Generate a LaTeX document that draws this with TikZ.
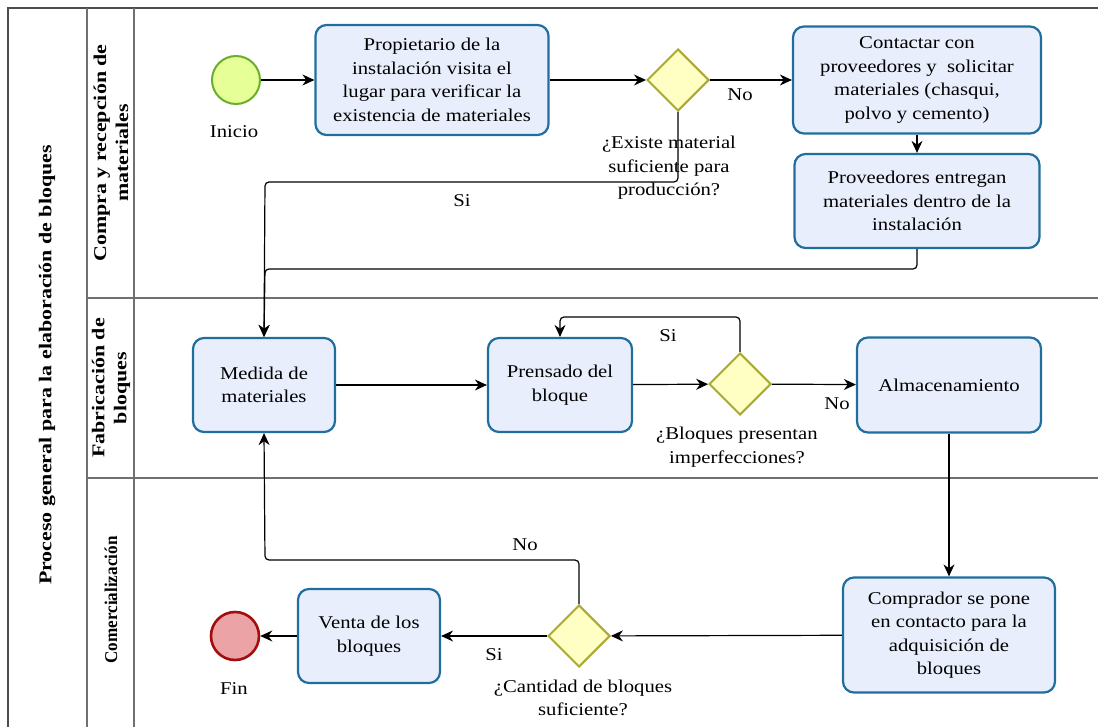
\documentclass[tikz,border=0pt]{standalone}
\usepackage{fontspec}
\setmainfont{Liberation Serif}[FakeStretch=1.15]
\newfontfamily\lanefont{Liberation Serif}[FakeStretch=1.22]
\usetikzlibrary{shapes.geometric,arrows.meta}
\definecolor{taskfill}{HTML}{E8EEFC}
\definecolor{taskborder}{HTML}{1F6E9E}
\definecolor{gatefill}{HTML}{FFFFC4}
\definecolor{gateborder}{HTML}{A9A934}
\definecolor{startfill}{HTML}{E6FF97}
\definecolor{startborder}{HTML}{6AAE2A}
\definecolor{endfill}{HTML}{EBA3A6}
\definecolor{endborder}{HTML}{A30D0D}
\definecolor{framecol}{HTML}{707070}
\tikzset{
  txt/.style={font=\fontsize{18}{23.5}\selectfont, align=center, inner sep=0pt},
  task/.style={txt, draw=taskborder, fill=taskfill, line width=2.2pt, rounded corners=11pt},
  gate/.style={diamond, aspect=1, draw=gateborder, fill=gatefill, line width=2pt, minimum size=62pt, inner sep=0pt},
  evstart/.style={circle, draw=startborder, fill=startfill, line width=2pt, minimum size=48pt, inner sep=0pt},
  evend/.style={circle, draw=endborder, fill=endfill, line width=2.6pt, minimum size=48pt, inner sep=0pt},
  flow/.style={-{Stealth[length=12pt,width=11pt]}, line width=1.2pt, rounded corners=4pt},
  lbl/.style={txt},
  lanelbl/.style={font=\lanefont\fontsize{18}{22}\selectfont\bfseries, align=center, rotate=90, inner sep=0pt},
  frame/.style={draw=framecol, line width=1.6pt}
}
\begin{document}
\begin{tikzpicture}[x=1pt,y=-1pt]
\useasboundingbox (0,0) rectangle (1098,727);
% frame
\draw[frame, draw=black!70, line width=2pt] (8,727) -- (8,8) -- (1098,8);
\draw[frame] (87,8) -- (87,727);
\draw[frame] (134,8) -- (134,727);
\draw[frame] (87,298) -- (1098,298);
\draw[frame] (87,478) -- (1098,478);
% lane labels
\node[lanelbl] (pool) at (47,365) {Proceso general para la elaboración de bloques};
\node[lanelbl] (lane1) at (111,153) {Compra y recepción de\\materiales};
\node[lanelbl] (lane2) at (111,388) {Fabricación de\\bloques};
\node[lanelbl] (lane3) at (111,600) {\scalebox{0.78}[1]{Comercialización}};
% lane 1
\node[evstart] (start) at (236,80) {};
\node[lbl] (inicio) at (234,132) {Inicio};
\node[task, minimum width=233pt, minimum height=110pt] (t1) at (432,80)
  {Propietario de la\\instalación visita el\\lugar para verificar la\\existencia de materiales};
\node[gate] (g1) at (678,80) {};
\node[lbl] (g1l) at (669,168) {¿Existe material\\suficiente para\\producción?};
\node[task, minimum width=248pt, minimum height=107pt] (t2) at (917,80)
  {Contactar con\\proveedores y\ \ solicitar\\materiales (chasqui,\\polvo y cemento)};
\node[task, minimum width=245pt, minimum height=94pt] (t3) at (917,201)
  {Proveedores entregan\\materiales dentro de la\\instalación};
\node[lbl] (no1) at (740,95) {No};
\node[lbl] (si1) at (462,201) {Si};
% lane 2
\node[task, minimum width=142pt, minimum height=94pt] (med) at (264,385) {Medida de\\materiales};
\node[task, minimum width=144pt, minimum height=94pt] (pre) at (560,385) {Prensado del\\bloque};
\node[gate] (g2) at (740,384) {};
\node[lbl] (g2l) at (737,447) {¿Bloques presentan\\imperfecciones?};
\node[task, minimum width=184pt, minimum height=95pt] (alm) at (949,385) {Almacenamiento};
\node[lbl] (si2) at (668,336) {Si};
\node[lbl] (no2) at (837,404) {No};
% lane 3
\node[task, minimum width=212pt, minimum height=115pt] (comp) at (949,635)
  {Comprador se pone\\en contacto para la\\adquisición de\\bloques};
\node[gate] (g3) at (579,636) {};
\node[lbl] (g3l) at (583,698) {¿Cantidad de bloques\\suficiente?};
\node[task, minimum width=142pt, minimum height=94pt] (ven) at (369,636) {Venta de los\\bloques};
\node[evend] (fin) at (235,636) {};
\node[lbl] (finl) at (234,689) {Fin};
\node[lbl] (no3) at (525,545) {No};
\node[lbl] (si3) at (494,655) {Si};
% connectors
\coordinate (c1) at (265,182);
\coordinate (c2) at (265,269);
\coordinate (c3) at (560,317);
\coordinate (c4) at (265,560);
\draw[flow] (start) -- (t1);
\draw[flow] (t1) -- (g1);
\draw[flow] (g1) -- (t2);
\draw[flow] (t2) -- (t3);
\draw[flow] (g1.south) |- (c1) -- (med.north);
\draw[flow] (t3.south) |- (c2) -- (med.north);
\draw[flow] (med) -- (pre);
\draw[flow] (pre) -- (g2);
\draw[flow] (g2.north) |- (c3) -- (pre.north);
\draw[flow] (g2) -- (alm);
\draw[flow] (alm) -- (comp);
\draw[flow] (comp) -- (g3);
\draw[flow] (g3) -- (ven);
\draw[flow] (ven) -- (fin);
\draw[flow] (g3.north) |- (c4) -- (med.south);
\end{tikzpicture}
\end{document}
